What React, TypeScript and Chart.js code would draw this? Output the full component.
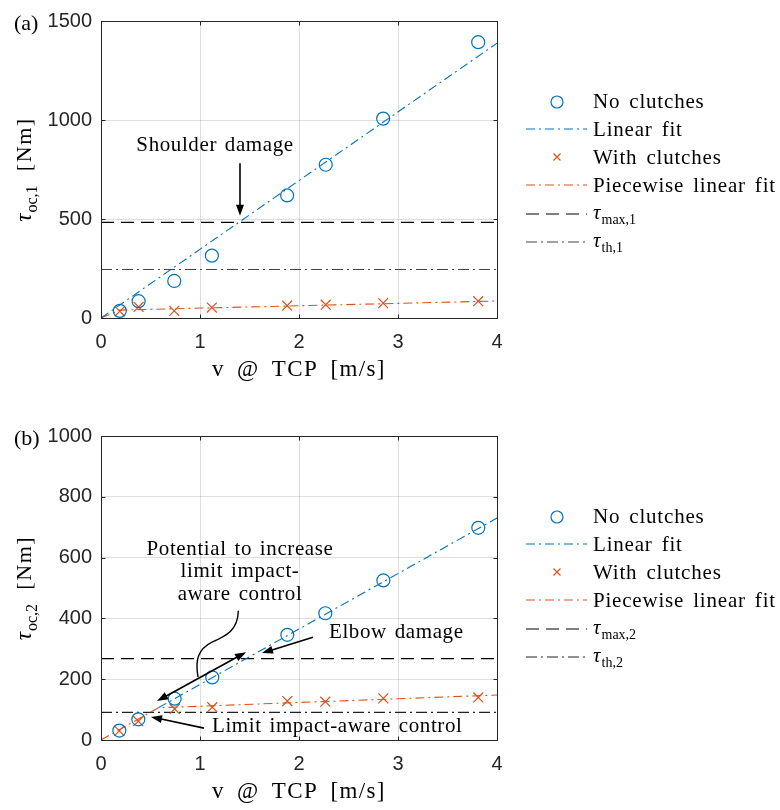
import React, { useEffect, useRef } from "react";
import { Chart, registerables } from "chart.js";

Chart.register(...registerables);

const BLUE = "#0072BD";
const ORANGE = "#D95319";
const AXIS = "#262626";

const xTicks = [0, 1, 2, 3, 4];

// Panel (a): shoulder joint torque
const speedA = [0.19, 0.38, 0.74, 1.12, 1.88, 2.27, 2.85, 3.81];
const noClutchA = [36, 85, 187, 315, 619, 774, 1007, 1393];
const withClutchA = [34, 56, 36, 53, 62, 67, 75, 85];
const linFitXA = [0, 4];
const linFitYA = [0, 1388];
const pwFitXA = [0, 0.19, 4];
const pwFitYA = [0, 40, 86];
const tauMaxA = 483;
const tauThA = 245;
const yTicksA = [0, 500, 1000, 1500];

// Panel (b): elbow joint torque
const speedB = [0.185, 0.377, 0.744, 1.124, 1.882, 2.266, 2.852, 3.811];
const noClutchB = [31, 68, 136, 206, 346, 417, 525, 698];
const withClutchB = [30, 62, 102, 108, 128, 126, 137, 140];
const linFitXB = [0.58, 4];
const linFitYB = [106, 730];
const pwFitXB = [0, 0.58, 4];
const pwFitYB = [0, 106, 148];
const tauMaxB = 268;
const tauThB = 91;
const yTicksB = [0, 200, 400, 600, 800, 1000];

const DASH_DOT = [9, 4, 2, 4];
const DASHED = [13, 7];
const TH_DASH = [11, 4, 2, 4];

const SERIF = "Liberation Serif";
const SANS = "Liberation Sans";

type Pt = [number, number];

type Panel = {
  tag: string;
  joint: string;
  yTicks: number[];
  speed: number[];
  noClutch: number[];
  withClutch: number[];
  linX: number[];
  linY: number[];
  pwX: number[];
  pwY: number[];
  tauMax: number;
  tauTh: number;
  topPad: number;
  xAxisH: number;
  bottomPad: number;
  thColor: string;
  annotate: (ctx: CanvasRenderingContext2D, p: (x: number, y: number) => Pt) => void;
};

function setSpacing(ctx: CanvasRenderingContext2D, letter: string, word: string) {
  (ctx as any).letterSpacing = letter;
  (ctx as any).wordSpacing = word;
}

function arrowHead(ctx: CanvasRenderingContext2D, tip: Pt, from: Pt) {
  const ang = Math.atan2(tip[1] - from[1], tip[0] - from[0]);
  const len = 11;
  const hw = 4;
  const bx = tip[0] - len * Math.cos(ang);
  const by = tip[1] - len * Math.sin(ang);
  ctx.beginPath();
  ctx.moveTo(tip[0], tip[1]);
  ctx.lineTo(bx + hw * Math.sin(ang), by - hw * Math.cos(ang));
  ctx.lineTo(bx - hw * Math.sin(ang), by + hw * Math.cos(ang));
  ctx.closePath();
  ctx.fill();
}

function arrow(ctx: CanvasRenderingContext2D, a: Pt, b: Pt, both = false) {
  ctx.save();
  ctx.strokeStyle = "#000";
  ctx.fillStyle = "#000";
  ctx.lineWidth = 1.6;
  ctx.setLineDash([]);
  const ang = Math.atan2(b[1] - a[1], b[0] - a[0]);
  const e: Pt = [b[0] - 8 * Math.cos(ang), b[1] - 8 * Math.sin(ang)];
  const s: Pt = both ? [a[0] + 8 * Math.cos(ang), a[1] + 8 * Math.sin(ang)] : a;
  ctx.beginPath();
  ctx.moveTo(s[0], s[1]);
  ctx.lineTo(e[0], e[1]);
  ctx.stroke();
  arrowHead(ctx, b, a);
  if (both) arrowHead(ctx, a, b);
  ctx.restore();
}

function text(
  ctx: CanvasRenderingContext2D,
  str: string,
  x: number,
  y: number,
  align: CanvasTextAlign = "left"
) {
  ctx.save();
  ctx.font = `21px "${SERIF}"`;
  setSpacing(ctx, "0.6px", "2px");
  ctx.fillStyle = "#000";
  ctx.textAlign = align;
  ctx.textBaseline = "alphabetic";
  ctx.fillText(str, x, y);
  ctx.restore();
}

// τ with a subscript, starting at x (baseline y); returns the width drawn
function tauSub(ctx: CanvasRenderingContext2D, sub: string, x: number, y: number, size: number, measureOnly = false) {
  ctx.font = `italic ${size}px "${SERIF}"`;
  const w1 = ctx.measureText("τ").width;
  if (!measureOnly) ctx.fillText("τ", x, y);
  ctx.font = `${Math.round(size * 0.68)}px "${SERIF}"`;
  const w2 = ctx.measureText(sub).width;
  if (!measureOnly) ctx.fillText(sub, x + w1 + 1, y + size * 0.24);
  return w1 + 1 + w2;
}

const panelA: Panel = {
  tag: "(a)",
  joint: "1",
  yTicks: yTicksA,
  speed: speedA,
  noClutch: noClutchA,
  withClutch: withClutchA,
  linX: linFitXA,
  linY: linFitYA,
  pwX: pwFitXA,
  pwY: pwFitYA,
  tauMax: tauMaxA,
  tauTh: tauThA,
  topPad: 14,
  xAxisH: 70,
  bottomPad: 17,
  thColor: "#444",
  annotate: (ctx, p) => {
    const c = p(1.152, 841);
    text(ctx, "Shoulder damage", c[0], c[1], "center");
    arrow(ctx, p(1.404, 782), p(1.404, 517));
  },
};

const panelB: Panel = {
  tag: "(b)",
  joint: "2",
  yTicks: yTicksB,
  speed: speedB,
  noClutch: noClutchB,
  withClutch: withClutchB,
  linX: linFitXB,
  linY: linFitYB,
  pwX: pwFitXB,
  pwY: pwFitYB,
  tauMax: tauMaxB,
  tauTh: tauThB,
  topPad: 31,
  xAxisH: 60,
  bottomPad: 10,
  thColor: "#222",
  annotate: (ctx, p) => {
    const l1 = p(1.404, 608);
    const l2 = p(1.404, 536);
    const l3 = p(1.404, 460);
    text(ctx, "Potential to increase", l1[0], l1[1], "center");
    text(ctx, "limit impact-", l2[0], l2[1], "center");
    text(ctx, "aware control", l3[0], l3[1], "center");

    // brace linking the note to the double arrow
    const s = p(1.387, 425);
    const c1 = p(1.384, 361);
    const c2 = p(1.263, 342);
    const m = p(1.121, 322);
    const c3 = p(0.98, 299);
    const c4 = p(0.949, 263);
    const e = p(0.98, 207);
    ctx.save();
    ctx.strokeStyle = "#000";
    ctx.lineWidth = 1.4;
    ctx.setLineDash([]);
    ctx.beginPath();
    ctx.moveTo(s[0], s[1]);
    ctx.bezierCurveTo(c1[0], c1[1], c2[0], c2[1], m[0], m[1]);
    ctx.bezierCurveTo(c3[0], c3[1], c4[0], c4[1], e[0], e[1]);
    ctx.stroke();
    ctx.restore();

    arrow(ctx, p(0.566, 128), p(1.465, 289), true);

    const et = p(2.303, 335);
    text(ctx, "Elbow damage", et[0], et[1]);
    arrow(ctx, p(2.141, 338), p(1.626, 286));

    const lt = p(1.121, 27);
    text(ctx, "Limit impact-aware control", lt[0], lt[1]);
    arrow(ctx, p(1.04, 39), p(0.505, 76));
  },
};

const LEGEND_ROWS = [80, 108, 136, 164, 193, 221];

function buildChart(canvas: HTMLCanvasElement, P: Panel) {
  const xy = (xs: number[], ys: number[]) => xs.map((x, i) => ({ x, y: ys[i] }));
  const yMax = P.yTicks[P.yTicks.length - 1];
  const yStep = P.yTicks[1] - P.yTicks[0];

  const overlay = {
    id: "panelOverlay",
    afterDraw(chart: any) {
      const ctx: CanvasRenderingContext2D = chart.ctx;
      const xs = chart.scales.x;
      const ys = chart.scales.y;
      const area = chart.chartArea;
      const p = (x: number, y: number): Pt => [xs.getPixelForValue(x), ys.getPixelForValue(y)];

      ctx.save();
      // axes box with inward ticks
      ctx.strokeStyle = AXIS;
      ctx.lineWidth = 1;
      ctx.setLineDash([]);
      const L = Math.round(area.left) + 0.5;
      const R = Math.round(area.right) + 0.5;
      const T = Math.round(area.top) + 0.5;
      const B = Math.round(area.bottom) + 0.5;
      ctx.strokeRect(L, T, R - L, B - T);
      ctx.beginPath();
      xTicks.forEach((v) => {
        const x = Math.round(xs.getPixelForValue(v)) + 0.5;
        ctx.moveTo(x, B);
        ctx.lineTo(x, B - 4);
        ctx.moveTo(x, T);
        ctx.lineTo(x, T + 4);
      });
      P.yTicks.forEach((v) => {
        const y = Math.round(ys.getPixelForValue(v)) + 0.5;
        ctx.moveTo(L, y);
        ctx.lineTo(L + 4, y);
        ctx.moveTo(R, y);
        ctx.lineTo(R - 4, y);
      });
      ctx.stroke();

      // annotations
      P.annotate(ctx, p);

      // panel tag
      ctx.fillStyle = "#000";
      ctx.font = `22px "${SERIF}"`;
      ctx.textAlign = "left";
      ctx.textBaseline = "alphabetic";
      ctx.fillText(P.tag, 14, area.top + 9);

      // x-axis title
      ctx.save();
      ctx.font = `23px "${SERIF}"`;
      setSpacing(ctx, "1.4px", "5px");
      ctx.textAlign = "center";
      ctx.fillText("v @ TCP [m/s]", (area.left + area.right) / 2, area.bottom + 58);
      ctx.restore();

      // y-axis title (rotated)
      ctx.save();
      ctx.translate(31, (area.top + area.bottom) / 2);
      ctx.rotate(-Math.PI / 2);
      ctx.textAlign = "left";
      ctx.textBaseline = "alphabetic";
      const sub = "oc," + P.joint;
      const wTau = tauSub(ctx, sub, 0, 0, 23, true);
      ctx.font = `22px "${SERIF}"`;
      setSpacing(ctx, "1.6px", "0px");
      const rest = "  [Nm]";
      const wRest = ctx.measureText(rest).width;
      const x0 = -(wTau + wRest) / 2;
      setSpacing(ctx, "0px", "0px");
      tauSub(ctx, sub, x0, 0, 23);
      ctx.font = `22px "${SERIF}"`;
      setSpacing(ctx, "1.6px", "0px");
      ctx.fillText(rest, x0 + wTau, 0);
      ctx.restore();

      // legend
      const lx0 = 526;
      const lx1 = 587;
      const mx = 557;
      const tx = 593;
      const items = [
        { kind: "circle", color: BLUE, label: "No clutches" },
        { kind: "line", color: BLUE, dash: DASH_DOT, label: "Linear fit" },
        { kind: "cross", color: ORANGE, label: "With clutches" },
        { kind: "line", color: ORANGE, dash: DASH_DOT, label: "Piecewise linear fit" },
        { kind: "line", color: "#000", dash: DASHED, sub: "max," + P.joint },
        { kind: "line", color: P.thColor, dash: TH_DASH, sub: "th," + P.joint },
      ];
      items.forEach((it: any, i) => {
        const y = area.top + LEGEND_ROWS[i];
        ctx.save();
        ctx.strokeStyle = it.color;
        ctx.lineWidth = 1.2;
        if (it.kind === "circle") {
          ctx.beginPath();
          ctx.arc(mx, y + 1, 6, 0, Math.PI * 2);
          ctx.stroke();
        } else if (it.kind === "cross") {
          ctx.beginPath();
          ctx.moveTo(mx - 3.5, y - 3.5);
          ctx.lineTo(mx + 3.5, y + 3.5);
          ctx.moveTo(mx - 3.5, y + 3.5);
          ctx.lineTo(mx + 3.5, y - 3.5);
          ctx.stroke();
        } else {
          ctx.setLineDash(it.dash);
          ctx.beginPath();
          ctx.moveTo(lx0, y);
          ctx.lineTo(lx1, y);
          ctx.stroke();
        }
        ctx.restore();
        ctx.save();
        ctx.fillStyle = "#000";
        ctx.textAlign = "left";
        ctx.textBaseline = "alphabetic";
        if (it.label) {
          ctx.font = `21px "${SERIF}"`;
          setSpacing(ctx, "0.8px", "3px");
          ctx.fillText(it.label, tx, y + 7);
        } else {
          tauSub(ctx, it.sub, tx, y + 5, 21);
        }
        ctx.restore();
      });
      ctx.restore();
    },
  };

  const tickFont = { family: SANS, size: 20 };
  const plain = (v: any) => String(v);

  return new Chart(canvas, {
    type: "scatter",
    data: {
      datasets: [
        {
          label: "No clutches",
          data: xy(P.speed, P.noClutch),
          showLine: false,
          pointStyle: "circle",
          pointRadius: 6.5,
          pointBorderWidth: 1.2,
          borderColor: BLUE,
          backgroundColor: "rgba(0,0,0,0)",
        },
        {
          label: "Linear fit",
          data: xy(P.linX, P.linY),
          showLine: true,
          pointRadius: 0,
          borderColor: BLUE,
          borderWidth: 1.1,
          borderDash: DASH_DOT,
        },
        {
          label: "With clutches",
          data: xy(P.speed, P.withClutch),
          showLine: false,
          pointStyle: "crossRot",
          pointRadius: 7,
          pointBorderWidth: 1.2,
          borderColor: ORANGE,
          backgroundColor: ORANGE,
        },
        {
          label: "Piecewise linear fit",
          data: xy(P.pwX, P.pwY),
          showLine: true,
          pointRadius: 0,
          borderColor: ORANGE,
          borderWidth: 1.1,
          borderDash: DASH_DOT,
        },
        {
          label: "tau max",
          data: xy([0, 4], [P.tauMax, P.tauMax]),
          showLine: true,
          pointRadius: 0,
          borderColor: "#000",
          borderWidth: 1.2,
          borderDash: DASHED,
        },
        {
          label: "tau th",
          data: xy([0, 4], [P.tauTh, P.tauTh]),
          showLine: true,
          pointRadius: 0,
          borderColor: P.thColor,
          borderWidth: 1.2,
          borderDash: TH_DASH,
        },
      ],
    },
    options: {
      responsive: false,
      animation: false,
      devicePixelRatio: 1,
      layout: { padding: { left: 0, right: 283, top: P.topPad, bottom: P.bottomPad } },
      plugins: { legend: { display: false }, tooltip: { enabled: false } },
      scales: {
        x: {
          type: "linear",
          min: 0,
          max: 4,
          ticks: { stepSize: 1, font: tickFont, color: AXIS, padding: 12, callback: plain },
          grid: { color: "rgba(0,0,0,0.13)", drawTicks: false },
          border: { display: false },
          afterFit: (s: any) => {
            s.height = P.xAxisH;
          },
        },
        y: {
          type: "linear",
          min: 0,
          max: yMax,
          ticks: { stepSize: yStep, font: tickFont, color: AXIS, padding: 9, callback: plain },
          grid: { color: "rgba(0,0,0,0.13)", drawTicks: false },
          border: { display: false },
          afterFit: (s: any) => {
            s.width = 101;
          },
        },
      },
    },
    plugins: [overlay],
  } as any);
}

function PanelChart({ panel, top }: { panel: Panel; top: number }) {
  const ref = useRef<HTMLCanvasElement | null>(null);
  useEffect(() => {
    if (!ref.current) return;
    const chart = buildChart(ref.current, panel);
    return () => chart.destroy();
  }, [panel]);
  return (
    <canvas
      ref={ref}
      width={780}
      height={405}
      style={{ position: "absolute", left: 0, top, width: 780, height: 405 }}
    />
  );
}

export default function App() {
  return (
    <div style={{ position: "absolute", left: 0, top: 0, width: 780, height: 810, background: "#fff" }}>
      <PanelChart panel={panelA} top={0} />
      <PanelChart panel={panelB} top={405} />
    </div>
  );
}
